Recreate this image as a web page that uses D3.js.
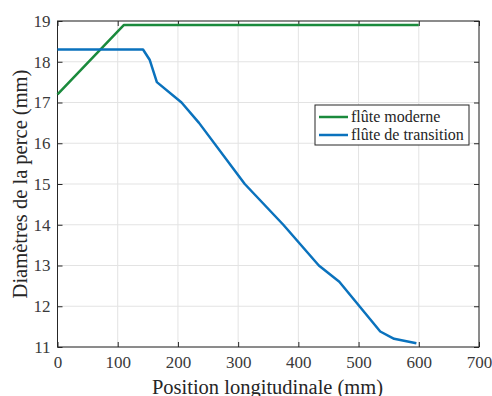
<!DOCTYPE html>
<html>
<head>
<meta charset="utf-8">
<script src="https://cdn.jsdelivr.net/npm/d3@7"></script>
</head>
<body>
<svg id="chart"></svg>
<script>
// Data
const seriesNames = ["flûte moderne", "flûte de transition"];
const seriesColors = ["#1a8a3c", "#0a72bd"];
const moderneX = [0, 110, 600];
const moderneY = [17.2, 18.9, 18.9];
const transitionX = [0, 142, 153, 165, 206, 235, 311, 375, 434, 468, 536, 559, 596];
const transitionY = [18.3, 18.3, 18.05, 17.5, 17.0, 16.5, 15.0, 14.0, 13.0, 12.6, 11.38, 11.2, 11.09];
const xTicks = [0, 100, 200, 300, 400, 500, 600, 700];
const yTicks = [11, 12, 13, 14, 15, 16, 17, 18, 19];

const font = "\"Liberation Serif\"";
const width = 492, height = 396;
const margin = { top: 21, right: 13, bottom: 49, left: 57.5 };
const w = width - margin.left - margin.right;
const h = height - margin.top - margin.bottom;

d3.select("body").style("margin", "0px");

const svg = d3.select("#chart")
  .attr("width", width)
  .attr("height", height)
  .style("display", "block");

const g = svg.append("g")
  .attr("transform", `translate(${margin.left},${margin.top})`);

const x = d3.scaleLinear().domain([0, 700]).range([0, w]);
const y = d3.scaleLinear().domain([11, 19]).range([h, 0]);

// grid
g.append("g").selectAll("line").data(xTicks).enter().append("line")
  .attr("x1", d => x(d)).attr("x2", d => x(d))
  .attr("y1", 0).attr("y2", h)
  .attr("stroke", "#e3e3e3").attr("stroke-width", 1);
g.append("g").selectAll("line").data(yTicks).enter().append("line")
  .attr("y1", d => y(d)).attr("y2", d => y(d))
  .attr("x1", 0).attr("x2", w)
  .attr("stroke", "#e3e3e3").attr("stroke-width", 1);

// axes (ticks pointing inward, matlab style)
const axisStyle = sel => {
  sel.select(".domain").remove();
  sel.selectAll("line").attr("stroke", "#262626");
  sel.selectAll("text")
    .style("font-family", font)
    .style("font-size", "17px")
    .attr("fill", "#3a3a3a");
};
g.append("g").attr("transform", `translate(0,${h})`)
  .call(d3.axisBottom(x).tickValues(xTicks).tickSizeInner(-5).tickSizeOuter(0).tickPadding(9))
  .call(axisStyle);
g.append("g")
  .call(d3.axisLeft(y).tickValues(yTicks).tickSizeInner(-5).tickSizeOuter(0).tickPadding(7))
  .call(axisStyle);
g.append("g")
  .call(d3.axisTop(x).tickValues(xTicks).tickSizeInner(-5).tickSizeOuter(0).tickFormat(""))
  .call(axisStyle);
g.append("g").attr("transform", `translate(${w},0)`)
  .call(d3.axisRight(y).tickValues(yTicks).tickSizeInner(-5).tickSizeOuter(0).tickFormat(""))
  .call(axisStyle);

g.append("rect")
  .attr("width", w).attr("height", h)
  .attr("fill", "none").attr("stroke", "#262626").attr("stroke-width", 1);

// lines
const line = d3.line().x(d => x(d[0])).y(d => y(d[1]));
const series = [
  d3.zip(moderneX, moderneY),
  d3.zip(transitionX, transitionY)
];
series.forEach((s, i) => {
  g.append("path").datum(s)
    .attr("d", line)
    .attr("fill", "none")
    .attr("stroke", seriesColors[i])
    .attr("stroke-width", 2.5)
    .attr("stroke-linejoin", "round");
});

// legend
const legend = g.append("g").attr("transform", `translate(${315 - margin.left},${105 - margin.top})`);
legend.append("rect")
  .attr("width", 154).attr("height", 40)
  .attr("fill", "#fff").attr("stroke", "#262626").attr("stroke-width", 1);
seriesNames.forEach((name, i) => {
  const yy = 12 + i * 18;
  legend.append("line")
    .attr("x1", 4).attr("x2", 33).attr("y1", yy).attr("y2", yy)
    .attr("stroke", seriesColors[i]).attr("stroke-width", 2.5);
  legend.append("text")
    .attr("x", 36).attr("y", yy + 5)
    .style("font-family", font)
    .style("font-size", "16px")
    .attr("fill", "#262626")
    .text(name);
});

// axis labels
svg.append("text")
  .attr("x", 267.5).attr("y", 393.5)
  .attr("text-anchor", "middle")
  .style("font-family", font)
  .style("font-size", "20.5px")
  .attr("fill", "#262626")
  .text("Position longitudinale (mm)");
svg.append("text")
  .attr("transform", "translate(27,184) rotate(-90)")
  .attr("text-anchor", "middle")
  .style("font-family", font)
  .style("font-size", "20.5px")
  .attr("fill", "#262626")
  .text("Diamètres de la perce (mm)");
</script>
</body>
</html>
